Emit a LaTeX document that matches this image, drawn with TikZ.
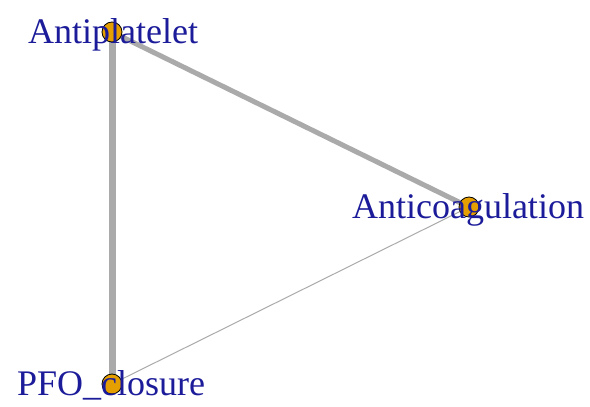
\documentclass[tikz,border=0pt]{standalone}
\usepackage{fontspec}
\setmainfont{Liberation Serif}
\definecolor{nodefill}{HTML}{E69F00}
\definecolor{edgegray}{HTML}{AAAAAA}
\definecolor{labelblue}{HTML}{1C1C9A}
\begin{document}
\begin{tikzpicture}[x=1pt,y=-1pt,
  vtx/.style={circle,draw=black,fill=nodefill,line width=0.8pt,minimum size=20pt,inner sep=0pt},
  lbl/.style={anchor=base,text=labelblue,font=\fontsize{36}{36}\selectfont,inner sep=0pt},
  edge/.style={draw=edgegray}]
\useasboundingbox (0,0) rectangle (590,407);
\coordinate (ap) at (112,32);
\coordinate (ac) at (469,207);
\coordinate (pfo) at (112,384);
\draw[edge,line width=7pt] (ap) -- (pfo);
\draw[edge,line width=5pt] (ap) -- (ac);
\draw[edge,line width=1pt] (pfo) -- (ac);
\node[vtx] (vap) at (ap) {};
\node[vtx] (vac) at (ac) {};
\node[vtx] (vpfo) at (pfo) {};
\node[lbl] (tap) at (113,43) {Antiplatelet};
\node[lbl] (tac) at (468,218) {Anticoagulation};
\node[lbl] (tpfo) at (111,395) {PFO\_closure};
\end{tikzpicture}
\end{document}
